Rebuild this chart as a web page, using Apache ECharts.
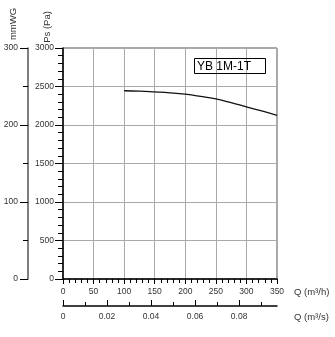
<!DOCTYPE html>
<html>
<head>
<meta charset="utf-8">
<script src="https://cdn.jsdelivr.net/npm/echarts@6/dist/echarts.min.js"></script>
<style>
  html, body { margin: 0; padding: 0; background: #fff; }
  #chart { width: 335px; height: 337px; }
</style>
</head>
<body>
<div id="chart"></div>
<script>
// Fan curve: static pressure against air flow
const flowM3h = [100, 125, 150, 175, 200, 225, 250, 275, 300, 325, 350];
const pressurePa = [2445, 2440, 2430, 2418, 2400, 2372, 2338, 2290, 2235, 2182, 2125];

// Secondary scales
const flowM3sMajor = [0, 0.02, 0.04, 0.06, 0.08];
const flowM3sMinor = [0.01, 0.03, 0.05, 0.07, 0.09];
const modelName = 'YB 1M-1T';

const FONT = '"Liberation Sans", Arial, sans-serif';
const LABEL = { fontFamily: FONT, fontSize: 8.5, color: '#333' };
const M3H_MAX = 350;
const M3S_MAX = M3H_MAX / 3600;

const chart = echarts.init(document.getElementById('chart'), null, { renderer: 'canvas' });

chart.setOption({
  animation: false,
  backgroundColor: '#fff',
  title: {
    text: modelName,
    left: 194,
    top: 58,
    padding: [1, 15, 0, 3],
    borderColor: '#000',
    borderWidth: 1,
    textStyle: { fontFamily: FONT, fontSize: 12, fontWeight: 'normal', color: '#000', lineHeight: 15 }
  },
  grid: {
    left: 63, top: 48, right: 58, bottom: 58,
    show: true, borderColor: '#555', borderWidth: 1
  },
  xAxis: [
    {
      type: 'value', min: 0, max: M3H_MAX, interval: 50, position: 'bottom',
      axisLine: { onZero: false, lineStyle: { color: '#000', width: 1.5 } },
      axisTick: { length: 5, lineStyle: { color: '#000' } },
      minorTick: { show: true, splitNumber: 5, length: 4, lineStyle: { color: '#000' } },
      splitLine: { show: true, lineStyle: { color: '#aaa', width: 1 } },
      axisLabel: Object.assign({ margin: 8 }, LABEL)
    },
    {
      type: 'value', min: 0, max: M3S_MAX, position: 'bottom', offset: 27,
      axisLine: { onZero: false, lineStyle: { color: '#000', width: 1.5 } },
      axisTick: { inside: true, length: 6, customValues: flowM3sMajor, lineStyle: { color: '#000' } },
      splitLine: { show: false },
      axisLabel: Object.assign({
        margin: 6, customValues: flowM3sMajor,
        formatter: v => (v === 0 ? '0' : v.toFixed(2))
      }, LABEL)
    },
    {
      type: 'value', min: 0, max: M3S_MAX, position: 'bottom', offset: 27,
      axisLine: { show: false, onZero: false },
      axisTick: { inside: true, length: 4, customValues: flowM3sMinor, lineStyle: { color: '#000' } },
      splitLine: { show: false },
      axisLabel: { show: false }
    }
  ],
  yAxis: [
    {
      type: 'value', min: 0, max: 3000, interval: 500, position: 'left',
      axisLine: { show: true, onZero: false, lineStyle: { color: '#000', width: 1.5 } },
      axisTick: { show: true, length: 8, lineStyle: { color: '#000' } },
      minorTick: { show: true, splitNumber: 5, length: 5, lineStyle: { color: '#000' } },
      splitLine: { show: true, lineStyle: { color: '#aaa', width: 1 } },
      axisLabel: Object.assign({ margin: 9, formatter: v => String(v) }, LABEL)
    },
    {
      type: 'value', min: 0, max: 300, interval: 100, position: 'left', offset: 35,
      axisLine: { show: true, onZero: false, lineStyle: { color: '#555', width: 1.5 } },
      axisTick: { show: true, length: 8, lineStyle: { color: '#000' } },
      minorTick: { show: true, splitNumber: 2, length: 5, lineStyle: { color: '#000' } },
      splitLine: { show: false },
      axisLabel: Object.assign({ margin: 10, formatter: v => String(v) }, LABEL)
    }
  ],
  graphic: [
    { type: 'text', x: 13, y: 24, rotation: Math.PI / 2,
      style: { text: 'mmWG', fontFamily: FONT, fontSize: 9.5, fill: '#333', align: 'center', verticalAlign: 'middle' } },
    { type: 'text', x: 47, y: 27, rotation: Math.PI / 2,
      style: { text: 'Ps (Pa)', fontFamily: FONT, fontSize: 9.5, fill: '#333', align: 'center', verticalAlign: 'middle' } },
    { type: 'text', x: 294, y: 292,
      style: { text: 'Q (m³/h)', fontFamily: FONT, fontSize: 9.5, fill: '#333', align: 'left', verticalAlign: 'middle' } },
    { type: 'text', x: 294, y: 317,
      style: { text: 'Q (m³/s)', fontFamily: FONT, fontSize: 9.5, fill: '#333', align: 'left', verticalAlign: 'middle' } }
  ],
  series: [
    {
      type: 'line',
      xAxisIndex: 0, yAxisIndex: 0,
      data: flowM3h.map((q, i) => [q, pressurePa[i]]),
      smooth: true,
      showSymbol: false,
      lineStyle: { color: '#111', width: 1.3 }
    }
  ]
});
</script>
</body>
</html>
